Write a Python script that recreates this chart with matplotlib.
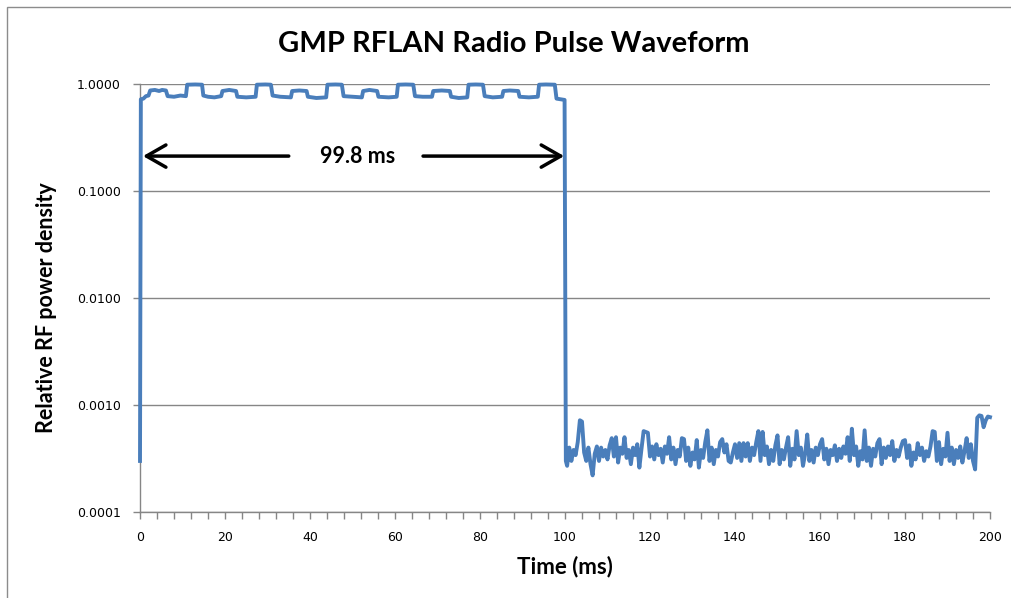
import numpy as np
import matplotlib
matplotlib.use("Agg")
import matplotlib.pyplot as plt
from matplotlib.patches import Rectangle
from matplotlib.ticker import FixedLocator, MultipleLocator, FuncFormatter

# ---------------- data ----------------
title = "GMP RFLAN Radio Pulse Waveform"
xlabel = "Time (ms)"
ylabel = "Relative RF power density"
annot_text = "99.8 ms"

pulse_t = [0.0, 0.2, 0.8, 1.4, 2.0, 2.4, 3.5, 4.5, 5.2, 6.1, 6.5, 8.0, 9.5, 10.8,
           11.1, 13.0, 14.6, 14.9, 16.0, 17.5, 19.1, 19.4, 21.0, 22.6, 22.9, 25.0,
           27.2, 27.5, 29.5, 30.8, 31.2, 33.0, 35.5, 35.8, 37.5, 39.2, 39.5, 41.5,
           43.8, 44.1, 46.0, 47.5, 47.9, 50.0, 52.2, 52.5, 54.0, 55.8, 56.1, 58.5,
           60.4, 60.7, 62.5, 64.3, 64.7, 66.5, 68.7, 69.0, 71.0, 72.9, 73.2, 75.0,
           77.0, 77.3, 79.0, 80.7, 81.1, 83.0, 85.2, 85.5, 87.0, 89.0, 89.3, 91.5,
           93.6, 93.9, 95.5, 97.6, 98.0, 99.0, 99.9, 100.2]
pulse_v = [0.0003, 0.72, 0.73, 0.77, 0.78, 0.87, 0.88, 0.86, 0.88, 0.87, 0.77, 0.76, 0.78, 0.77,
           0.985, 0.99, 0.985, 0.78, 0.76, 0.75, 0.77, 0.86, 0.88, 0.86, 0.76, 0.75,
           0.76, 0.985, 0.99, 0.985, 0.78, 0.76, 0.75, 0.86, 0.87, 0.86, 0.76, 0.74,
           0.75, 0.985, 0.99, 0.985, 0.77, 0.76, 0.75, 0.86, 0.88, 0.86, 0.76, 0.75,
           0.76, 0.985, 0.99, 0.985, 0.77, 0.76, 0.76, 0.86, 0.87, 0.86, 0.76, 0.74,
           0.75, 0.985, 0.99, 0.985, 0.77, 0.75, 0.76, 0.86, 0.87, 0.86, 0.76, 0.75,
           0.76, 0.985, 0.99, 0.985, 0.73, 0.72, 0.71, 0.0003]

noise_start = 100.5
noise_step = 0.5
noise_v = [
    0.00027, 0.00040, 0.00030, 0.00038, 0.00034, 0.00045, 0.00072, 0.00070, 0.00036, 0.00030,
    0.00040, 0.00028, 0.00022, 0.00035, 0.00041, 0.00030, 0.00040, 0.00033, 0.00038, 0.00031,
    0.00042, 0.00049, 0.00033, 0.00050, 0.00029, 0.00040, 0.00035, 0.00050, 0.00032, 0.00038,
    0.00028, 0.00040, 0.00034, 0.00043, 0.00026, 0.00039, 0.00057, 0.00056, 0.00055, 0.00033,
    0.00041, 0.00031, 0.00043, 0.00034, 0.00039, 0.00029, 0.00041, 0.00035, 0.00050, 0.00031,
    0.00040, 0.00028, 0.00038, 0.00033, 0.00049, 0.00048, 0.00030, 0.00040, 0.00027, 0.00036,
    0.00031, 0.00047, 0.00026, 0.00038, 0.00032, 0.00045, 0.00058, 0.00030, 0.00040, 0.00028,
    0.00038, 0.00033, 0.00045, 0.00048, 0.00036, 0.00043, 0.00030, 0.00029, 0.00036, 0.00043,
    0.00032, 0.00044, 0.00030, 0.00044, 0.00033, 0.00044, 0.00030, 0.00040, 0.00034, 0.00045,
    0.00057, 0.00030, 0.00056, 0.00034, 0.00041, 0.00028, 0.00038, 0.00030, 0.00042, 0.00052,
    0.00028, 0.00038, 0.00031, 0.00040, 0.00050, 0.00027, 0.00039, 0.00031, 0.00057, 0.00034,
    0.00040, 0.00027, 0.00035, 0.00053, 0.00030, 0.00038, 0.00029, 0.00040, 0.00034, 0.00043,
    0.00048, 0.00031, 0.00039, 0.00028, 0.00038, 0.00034, 0.00042, 0.00030, 0.00039, 0.00032,
    0.00041, 0.00035, 0.00050, 0.00030, 0.00060, 0.00034, 0.00041, 0.00027, 0.00037, 0.00031,
    0.00058, 0.00030, 0.00040, 0.00027, 0.00039, 0.00033, 0.00044, 0.00048, 0.00028, 0.00040,
    0.00032, 0.00041, 0.00034, 0.00046, 0.00030, 0.00038, 0.00033, 0.00040, 0.00046, 0.00047,
    0.00032, 0.00042, 0.00027, 0.00036, 0.00031, 0.00044, 0.00034, 0.00040, 0.00030, 0.00037,
    0.00033, 0.00041, 0.00057, 0.00056, 0.00030, 0.00045, 0.00028, 0.00039, 0.00033, 0.00055,
    0.00030, 0.00040, 0.00028, 0.00038, 0.00032, 0.00041, 0.00029, 0.00037, 0.00049, 0.00032,
    0.00043, 0.00030, 0.00025, 0.00076, 0.00080, 0.00079, 0.00062, 0.00072, 0.00078, 0.00077,
]

y_ticks = [0.0001, 0.001, 0.01, 0.1, 1.0]
x_major = [0, 20, 40, 60, 80, 100, 120, 140, 160, 180, 200]

arrow_y = 0.212
arrow_left = (35.0, 0.7)     # from, to
arrow_right = (66.6, 99.8)
text_x = 51.2

# ---------------- plot ----------------
line_color = "#4a7ebb"
grid_color = "#868686"

fig = plt.figure(figsize=(10.12, 5.98), dpi=100)
W, H = 1012, 598
ax = fig.add_axes([140 / W, 1 - 512 / H, 850 / W, 428 / H])

noise_t = noise_start + noise_step * np.arange(len(noise_v))
t_all = np.concatenate([np.array(pulse_t), noise_t])
v_all = np.concatenate([np.array(pulse_v), np.array(noise_v)])

ax.plot(t_all, v_all, color=line_color, lw=2.8, solid_joinstyle="round", clip_on=False, zorder=3)

ax.set_yscale("log")
ax.set_ylim(0.0001, 1.0)
ax.set_xlim(0, 200)
ax.yaxis.set_major_locator(FixedLocator(y_ticks))
ax.yaxis.set_minor_locator(FixedLocator([]))
ax.yaxis.set_major_formatter(FuncFormatter(lambda v, p: f"{v:.4f}"))
ax.xaxis.set_major_locator(FixedLocator(x_major))
ax.xaxis.set_minor_locator(MultipleLocator(4))

ax.grid(axis="y", which="major", color=grid_color, lw=1.0)
ax.set_axisbelow(True)
for s in ["top", "right"]:
    ax.spines[s].set_visible(False)
for s in ["left", "bottom"]:
    ax.spines[s].set_color(grid_color)
    ax.spines[s].set_linewidth(1.0)

ax.tick_params(axis="both", which="both", direction="out", color=grid_color,
               length=5, width=1.0, labelsize=9, labelcolor="black")
ax.tick_params(axis="x", which="major", pad=9)
ax.tick_params(axis="y", which="major", pad=9)
for lab in ax.get_xticklabels() + ax.get_yticklabels():
    lab.set_fontfamily("DejaVu Sans")

fig.text(514 / W, 1 - 44 / H, title, ha="center", va="center",
         fontsize=21, fontweight="bold", family="Lato")
ax.set_xlabel(xlabel, fontsize=16, fontweight="bold", family="Lato", labelpad=8)
ax.set_ylabel(ylabel, fontsize=15.5, fontweight="bold", family="Lato")
ax.yaxis.set_label_coords((57 - 140) / 850, (512 - 308) / 428)

arrowprops = dict(arrowstyle="->,head_length=0.7,head_width=0.4", color="black",
                  lw=2.5, mutation_scale=20, shrinkA=0, shrinkB=0)
ax.annotate("", xy=(arrow_left[1], arrow_y), xytext=(arrow_left[0], arrow_y),
            arrowprops=arrowprops, zorder=4)
ax.annotate("", xy=(arrow_right[1], arrow_y), xytext=(arrow_right[0], arrow_y),
            arrowprops=arrowprops, zorder=4)
ax.text(text_x, arrow_y, annot_text, ha="center", va="center", fontsize=15.5,
        fontweight="bold", family="Lato")

# outer chart frame
fig.patches.append(Rectangle((7 / W, -0.1), 1.2, 1 - 7 / H + 0.1, transform=fig.transFigure,
                             fill=False, edgecolor="#8c8c8c", lw=1.0))

fig.savefig("out.png", dpi=100)
